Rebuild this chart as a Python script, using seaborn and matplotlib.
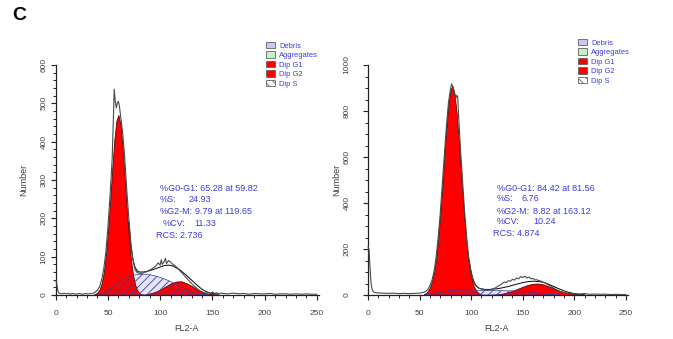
import pandas as pd
import matplotlib.pyplot as plt
import seaborn as sns
from matplotlib.patches import Patch
from matplotlib.ticker import MultipleLocator

sns.set_theme(style='ticks')
plt.rcParams['font.family'] = ['Liberation Sans', 'DejaVu Sans']
plt.rcParams['hatch.linewidth'] = 0.6

# ---- left histogram (FL2-A channel, number of events) ----
left_ch = [0, 1, 2, 3, 4, 6, 8, 10, 12, 14, 16, 18, 20, 22, 24, 26, 28, 30, 32, 34,
           36, 38, 40, 42, 44, 46, 48, 50, 52, 54, 55, 56, 57, 58, 59, 60, 61, 62, 64, 66,
           68, 70, 72, 74, 76, 78, 80, 82, 84, 86, 88, 90, 92, 94, 96, 98, 100, 101, 102, 104,
           105, 106, 108, 110, 112, 114, 116, 118, 120, 122, 124, 126, 128, 130, 132, 134, 136, 138, 140, 142,
           144, 146, 148, 150, 152, 154, 156, 158, 160, 165, 170, 175, 180, 185, 190, 195, 200, 205, 210, 215,
           220, 225, 230, 235, 240, 245, 250]
left_n = [38, 30, 12, 6, 4, 3, 5, 3, 4, 2, 4, 3, 2, 4, 3, 2, 4, 3, 3, 4,
          5, 8, 13, 22, 40, 68, 112, 178, 258, 352, 440, 537, 505, 488, 500, 505, 492, 470, 425, 360,
          275, 200, 130, 90, 66, 58, 57, 56, 58, 60, 62, 65, 68, 72, 76, 84, 78, 92, 80, 88,
          96, 82, 90, 86, 80, 77, 72, 66, 60, 54, 48, 42, 36, 30, 25, 20, 15, 11, 8, 6,
          4, 7, 3, 8, 4, 6, 3, 5, 4, 3, 5, 3, 4, 2, 4, 3, 3, 4, 2, 3,
          3, 2, 3, 2, 3, 2, 2]
left_g1_ch = list(range(36, 86, 2))
left_g1 = [1, 3, 7, 15, 31, 59, 103, 165, 242, 326, 402, 454, 470, 446, 388, 309, 226, 152, 93, 53,
           27, 13, 5, 2, 1]
left_s_ch = list(range(40, 150, 5))
left_s = [0, 4, 12, 22, 32, 41, 48, 52, 54, 54, 53, 50, 46, 41, 35, 28, 21, 14, 8, 4, 1, 0]
left_g2_ch = list(range(85, 160, 5))
left_g2 = [1, 4, 8, 14, 22, 30, 35, 36, 31, 24, 15, 9, 4, 2, 1]
left_fit_ch = [70, 72, 74, 76, 78, 80, 84, 88, 92, 96, 100, 104, 108, 112, 116, 120, 124, 128, 132, 136,
               140, 144, 148, 152, 156]
left_fit = [190, 130, 92, 72, 63, 60, 60, 62, 65, 69, 73, 77, 78, 76, 70, 63, 54, 44, 34, 24,
            15, 9, 5, 3, 2]
left_stats = ['%G0-G1: 65.28 at 59.82', '%S:', '24.93', '%G2-M:', '9.79 at 119.65',
              '%CV:', '11.33', 'RCS: 2.736']

# ---- right histogram ----
right_ch = [0, 1, 2, 3, 4, 5, 6, 8, 10, 15, 20, 25, 30, 35, 40, 45, 50, 52, 54, 56,
            58, 60, 62, 64, 66, 68, 70, 72, 74, 76, 78, 80, 81, 82, 84, 85, 86, 87, 88, 90,
            92, 94, 96, 98, 100, 102, 104, 106, 108, 110, 112, 114, 116, 118, 120, 122, 124, 126, 128, 130,
            132, 134, 136, 138, 140, 142, 144, 146, 148, 150, 152, 154, 156, 158, 160, 162, 164, 166, 168, 170,
            172, 174, 176, 178, 180, 182, 184, 186, 188, 190, 192, 194, 196, 198, 200, 205, 210, 215, 220, 225,
            230, 235, 240, 245, 250]
right_n = [210, 200, 120, 50, 25, 16, 12, 10, 9, 8, 7, 8, 6, 7, 6, 7, 8, 10, 12, 16,
           24, 40, 64, 102, 162, 248, 352, 478, 608, 732, 836, 896, 918, 906, 878, 852, 868, 862, 765, 612,
           472, 342, 232, 152, 96, 62, 42, 34, 28, 26, 24, 22, 21, 22, 25, 28, 32, 38, 43, 50,
           56, 54, 62, 60, 68, 65, 74, 70, 80, 76, 82, 74, 78, 70, 72, 66, 66, 62, 60, 55,
           52, 46, 42, 36, 30, 25, 20, 16, 13, 10, 8, 7, 6, 5, 5, 4, 6, 3, 4, 3,
           4, 2, 3, 2, 2]
right_g1_ch = list(range(54, 112, 2))
right_g1 = [4, 8, 17, 33, 59, 100, 160, 243, 349, 472, 604, 729, 831, 894, 909, 872, 790, 676, 546, 416,
            300, 204, 131, 79, 45, 25, 13, 6, 3]
right_s_ch = list(range(55, 190, 5))
right_s = [0, 3, 7, 12, 16, 19, 21, 22, 22, 22, 21, 20, 20, 19, 19, 19, 18, 18, 17, 16,
           14, 11, 8, 5, 3, 1, 0]
right_g2_ch = list(range(115, 215, 5))
right_g2 = [0.5, 1, 3, 6, 11, 18, 27, 36, 44, 49, 50, 46, 38, 28, 19, 12, 7, 4, 2, 1]
right_fit_ch = [98, 100, 102, 104, 106, 108, 112, 116, 120, 125, 130, 135, 140, 145, 150, 155, 160, 165, 170, 175,
                180, 185, 190, 195, 200, 205, 210]
right_fit = [150, 100, 66, 46, 35, 29, 25, 24, 25, 27, 31, 36, 42, 48, 54, 58, 60, 59, 55, 47,
             37, 27, 18, 11, 6, 3, 1]
right_stats = ['%G0-G1: 84.42 at 81.56', '%S:', '6.76', '%G2-M:', '8.82 at 163.12',
               '%CV:', '10.24', 'RCS: 4.874']

legend_labels = ['Debris', 'Aggregates', 'Dip G1', 'Dip G2', 'Dip S']
RED = '#ff0000'
BLUE_TXT = '#3b3be0'

W, H = 673, 339
fig = plt.figure(figsize=(W / 100, H / 100), dpi=100)


def fx(px):
    return px / W


def fy(py):
    return 1 - py / H


def draw_panel(ax, ch, n, g1_ch, g1, s_ch, s, g2_ch, g2, fit_ch, fit, ymax, ymaj, ymin, ypad, ylpad):
    # S phase: lavender face under the red peaks, hatch over everything
    ax.fill_between(s_ch, 0, s, facecolor='#e4e4f8', edgecolor='none', zorder=1)
    ax.fill_between(g1_ch, 0, g1, facecolor=RED, edgecolor='#300000', lw=0.5, zorder=2)
    ax.fill_between(g2_ch, 0, g2, facecolor=RED, edgecolor='#300000', lw=0.5, zorder=2)
    ax.fill_between(s_ch, 0, s, facecolor='none', edgecolor='#3b3b9a', hatch='////', lw=0.5, zorder=3)
    ax.plot(fit_ch, fit, color='black', lw=0.7, zorder=4)
    df = pd.DataFrame({'FL2-A': ch, 'Number': n})
    sns.lineplot(data=df, x='FL2-A', y='Number', ax=ax, color='#4a4a4a', lw=0.8, zorder=5)

    ax.set_xlim(-2, 252)
    ax.set_ylim(0, ymax)
    ax.spines['left'].set_position(('data', 0))
    ax.spines['top'].set_visible(False)
    ax.spines['right'].set_visible(False)
    for sp in ('left', 'bottom'):
        ax.spines[sp].set_linewidth(0.9)
        ax.spines[sp].set_color('#222222')
    ax.xaxis.set_major_locator(MultipleLocator(50))
    ax.xaxis.set_minor_locator(MultipleLocator(10))
    ax.yaxis.set_major_locator(MultipleLocator(ymaj))
    ax.yaxis.set_minor_locator(MultipleLocator(ymin))
    ax.tick_params(which='major', length=3.6, width=0.8, color='#222222', labelsize=6,
                   labelcolor='#404040')
    ax.tick_params(which='minor', length=2.2, width=0.7, color='#222222')
    ax.tick_params(axis='x', which='major', pad=7.5)
    ax.tick_params(axis='y', which='major', pad=ypad, labelrotation=90)
    for lab in ax.get_yticklabels():
        lab.set_va('center')
    ax.set_xlabel('FL2-A', fontsize=6.5, color='#404040', labelpad=4.5)
    ax.set_ylabel('Number', fontsize=6.5, color='#404040', labelpad=ylpad)
    ax.set_facecolor('white')


ax1 = fig.add_axes([fx(53.6), 44 / H, 265.4 / W, 230 / H])
ax2 = fig.add_axes([fx(365.9), 44 / H, 262.1 / W, 230 / H])
draw_panel(ax1, left_ch, left_n, left_g1_ch, left_g1, left_s_ch, left_s, left_g2_ch, left_g2,
           left_fit_ch, left_fit, 600, 100, 20, 2.2, 9)
draw_panel(ax2, right_ch, right_n, right_g1_ch, right_g1, right_s_ch, right_s, right_g2_ch, right_g2,
           right_fit_ch, right_fit, 1000, 200, 50, 9, 1.5)

# legends
handles = [
    Patch(facecolor='#c8c8f0', edgecolor='#606060', lw=0.6, label=legend_labels[0]),
    Patch(facecolor='#c6f0c6', edgecolor='#606060', lw=0.6, label=legend_labels[1]),
    Patch(facecolor=RED, edgecolor='#606060', lw=0.6, label=legend_labels[2]),
    Patch(facecolor=RED, edgecolor='#606060', lw=0.6, label=legend_labels[3]),
    Patch(facecolor='white', edgecolor='#606060', lw=0.6, hatch='\\\\\\\\', label=legend_labels[4]),
]
for ax, (lx, ly) in ((ax1, (266, 42)), (ax2, (578, 39))):
    ax.legend(handles=handles, loc='upper left', bbox_to_anchor=(fx(lx), fy(ly)),
              bbox_transform=fig.transFigure, frameon=False, fontsize=5.4,
              handlelength=1.25, handleheight=0.95, labelspacing=0.22, handletextpad=0.5,
              borderpad=0, borderaxespad=0, labelcolor=BLUE_TXT)

# statistics blocks
for st, x0, xs, xg, xcv, xr, xcvv, rows in (
        (left_stats, 160, 189, 195, 163, 156, 194, (188, 200, 212, 224, 236)),
        (right_stats, 497, 522, 533, 497, 493, 533, (188, 199, 211, 222, 234))):
    kw = dict(fontsize=6.5, color=BLUE_TXT, va='center', ha='left')
    fig.text(fx(x0), fy(rows[0]), st[0], **kw)
    fig.text(fx(x0), fy(rows[1]), st[1], **kw)
    fig.text(fx(xs), fy(rows[1]), st[2], **kw)
    fig.text(fx(x0), fy(rows[2]), st[3], **kw)
    fig.text(fx(xg), fy(rows[2]), st[4], **kw)
    fig.text(fx(xcv), fy(rows[3]), st[5], **kw)
    fig.text(fx(xcvv), fy(rows[3]), st[6], **kw)
    fig.text(fx(xr), fy(rows[4]), st[7], **kw)

fig.text(fx(12), fy(15), 'C', fontsize=14, fontweight='bold', color='black', va='center', ha='left')

fig.savefig('out.png', dpi=100, facecolor='white')
